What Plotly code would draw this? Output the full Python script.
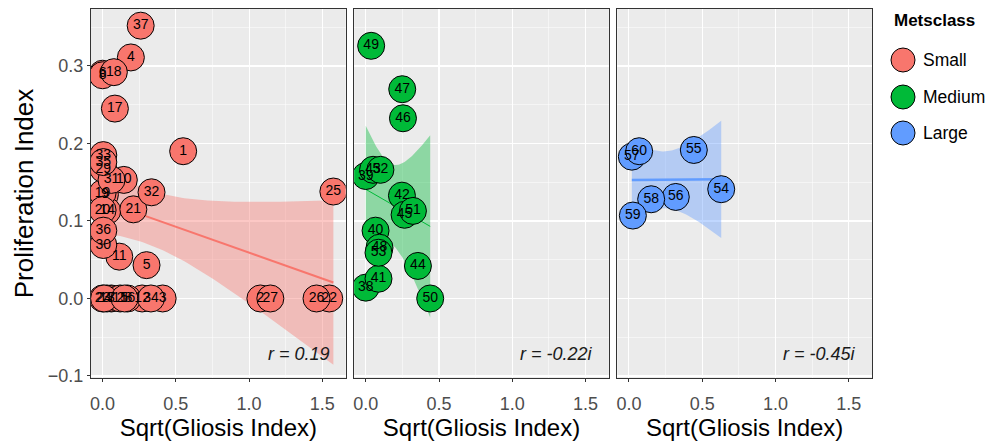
import numpy as np
import plotly.graph_objects as go

# ---------------- data ----------------
groups = ["Small", "Medium", "Large"]
colors = {"Small": "#F8766D", "Medium": "#00BA38", "Large": "#619CFF"}
band_colors = {"Small": "rgba(248,118,109,0.4)", "Medium": "rgba(0,186,56,0.4)", "Large": "rgba(97,156,255,0.4)"}
line_widths = {"Small": 2, "Medium": 1, "Large": 2.5}

small_labels = list(range(1, 38))
small_x = [0.55, 1.077, 0.41, 0.193, 0.30, 0.0, 0.06, 0.0, 0.016, 0.145,
           0.114, 0.27, 0.03, 0.032, 0.12, 0.17, 0.084, 0.077, 0.0, 0.0,
           0.21, 1.547, 0.0, 0.01, 1.575, 1.46, 1.145, 0.15, 0.005, 0.005,
           0.061, 0.334, 0.005, 0.33, 0.005, 0.005, 0.26]
small_y = [0.190, 0.0, 0.0, 0.311, 0.043, 0.290, 0.0, 0.288, 0.134, 0.153,
           0.054, 0.0, 0.0, 0.113, 0.0, 0.0, 0.245, 0.292, 0.136, 0.114,
           0.115, 0.0, 0.0, 0.0, 0.138, 0.0, 0.0, 0.0, 0.167, 0.069,
           0.153, 0.137, 0.185, 0.0, 0.176, 0.0875, 0.352]

medium_labels = list(range(38, 54))
medium_x = [0.0, 0.0, 0.067, 0.087, 0.247, 0.05, 0.356, 0.265, 0.254, 0.249,
            0.094, 0.037, 0.44, 0.322, 0.10, 0.087]
medium_y = [0.014, 0.158, 0.0875, 0.0255, 0.1327, 0.166, 0.042, 0.108, 0.2325, 0.270,
            0.0655, 0.326, 0.0, 0.113, 0.166, 0.059]

large_labels = list(range(54, 61))
large_x = [0.63, 0.443, 0.32, 0.02, 0.152, 0.027, 0.07]
large_y = [0.141, 0.1916, 0.131, 0.183, 0.128, 0.107, 0.19]

r_texts = ["r = 0.19", "r = -0.22i", "r = -0.45i"]

x_ticks = [0.0, 0.5, 1.0, 1.5]
x_ticklabels = ["0.0", "0.5", "1.0", "1.5"]
y_ticks = [-0.1, 0.0, 0.1, 0.2, 0.3]
y_ticklabels = ["\u22120.1", "0.0", "0.1", "0.2", "0.3"]

# t quantiles (0.975) for the lm confidence band, keyed by degrees of freedom
T975 = {35: 2.0301, 14: 2.1448, 5: 2.5706}

data = {
    "Small": (small_labels, small_x, small_y),
    "Medium": (medium_labels, medium_x, medium_y),
    "Large": (large_labels, large_x, large_y),
}

FONT = "Liberation Sans, Arial, Helvetica, sans-serif"
plot_left, plot_right, plot_top, plot_bottom = 91, 872, 9, 378
W, H = 995, 447

fig = go.Figure()

gap = 8.5 / (plot_right - plot_left)
w = (1 - 2 * gap) / 3
domains = [[0, w], [w + gap, 2 * w + gap], [2 * (w + gap), 1]]

for i, g in enumerate(groups):
    labels, xs, ys = data[g]
    xs = np.array(xs, float)
    ys = np.array(ys, float)
    n = len(xs)
    b, a = np.polyfit(xs, ys, 1)
    resid = ys - (a + b * xs)
    s = np.sqrt(np.sum(resid ** 2) / (n - 2))
    xbar = xs.mean()
    sxx = np.sum((xs - xbar) ** 2)
    xg = np.linspace(xs.min(), xs.max(), 80)
    yh = a + b * xg
    se = s * np.sqrt(1 / n + (xg - xbar) ** 2 / sxx)
    t = T975[n - 2]
    lo = yh - t * se
    hi = yh + t * se
    ax = "" if i == 0 else str(i + 1)
    xa, ya = "x" + ax, "y" + ax
    fig.add_trace(go.Scatter(x=np.concatenate([xg, xg[::-1]]), y=np.concatenate([hi, lo[::-1]]),
                             fill="toself", fillcolor=band_colors[g], line=dict(width=0),
                             mode="lines", hoverinfo="skip", showlegend=False, xaxis=xa, yaxis=ya))
    fig.add_trace(go.Scatter(x=xg, y=yh, mode="lines", line=dict(color=colors[g], width=line_widths[g]),
                             showlegend=False, hoverinfo="skip", xaxis=xa, yaxis=ya))
    fig.add_trace(go.Scatter(x=xs, y=ys, mode="markers+text", text=[str(l) for l in labels],
                             textposition="middle center",
                             textfont=dict(family=FONT, size=14, color="black"),
                             marker=dict(size=27, color=colors[g], line=dict(color="black", width=1)),
                             showlegend=False, xaxis=xa, yaxis=ya))
    fig.add_annotation(x=1.565, y=-0.072, xref=xa, yref=ya, text="<i>" + r_texts[i] + "</i>",
                       showarrow=False, xanchor="right", yanchor="middle",
                       font=dict(family=FONT, size=18, color="#1a1a1a"))

    common = dict(showline=True, linecolor="#333333", linewidth=1, mirror=True,
                  gridcolor="white", gridwidth=1.1, zeroline=False, automargin=False,
                  ticks="outside", ticklen=3, tickcolor="#333333", tickwidth=1,
                  tickfont=dict(family=FONT, size=18, color="#4D4D4D"))
    layout_x = dict(common, domain=domains[i], range=[-0.079, 1.659],
                    tickvals=x_ticks, ticktext=x_ticklabels, ticklabelstandoff=6,
                    minor=dict(tickvals=[0.25, 0.75, 1.25], showgrid=True, gridcolor="white", gridwidth=0.5, ticks=""),
                    title=dict(text="Sqrt(Gliosis Index)", font=dict(family=FONT, size=24, color="black"), standoff=6),
                    anchor=ya)
    layout_y = dict(common, range=[-0.1026, 0.3735], tickvals=y_ticks, ticktext=y_ticklabels,
                    minor=dict(tickvals=[-0.05, 0.05, 0.15, 0.25, 0.35], showgrid=True, gridcolor="white", gridwidth=0.5, ticks=""),
                    anchor=xa, domain=[0, 1])
    if i == 0:
        layout_y["title"] = dict(text="Proliferation Index", font=dict(family=FONT, size=26, color="black"), standoff=6)
    else:
        layout_y["showticklabels"] = False
        layout_y["ticks"] = ""
        layout_y["matches"] = "y"
    fig.update_layout(**{"xaxis" + ax: layout_x, "yaxis" + ax: layout_y})


def px_to_paper(xp, yp):
    return (xp - plot_left) / (plot_right - plot_left), (plot_bottom - yp) / (plot_bottom - plot_top)


# manual legend
leg_x_px = 903
leg_y_px = [60, 97, 133]
tx, ty = px_to_paper(892, 21)
fig.add_annotation(x=tx, y=ty, xref="paper", yref="paper", text="<b>Metsclass</b>", showarrow=False,
                   xanchor="left", yanchor="middle", font=dict(family=FONT, size=17, color="black"))
for g, yp in zip(groups, leg_y_px):
    cx, cy = px_to_paper(leg_x_px, yp)
    fig.add_shape(type="circle", xref="paper", yref="paper", xsizemode="pixel", ysizemode="pixel",
                  xanchor=cx, yanchor=cy, x0=-12, x1=12, y0=-12, y1=12,
                  fillcolor=colors[g], line=dict(color="black", width=1))
    lx, ly = px_to_paper(921, yp)
    fig.add_annotation(x=lx, y=ly, xref="paper", yref="paper", text=g, showarrow=False,
                       xanchor="left", yanchor="middle", font=dict(family=FONT, size=17.5, color="black"))

fig.update_layout(width=W, height=H, plot_bgcolor="#EBEBEB", paper_bgcolor="white",
                  margin=dict(l=plot_left, r=W - plot_right, t=plot_top, b=H - plot_bottom, autoexpand=False),
                  showlegend=False, font=dict(family=FONT))

fig.write_html("out.html", config={"displayModeBar": False, "staticPlot": True},
               post_script="document.body.style.margin='0px';document.body.style.overflow='hidden';")
